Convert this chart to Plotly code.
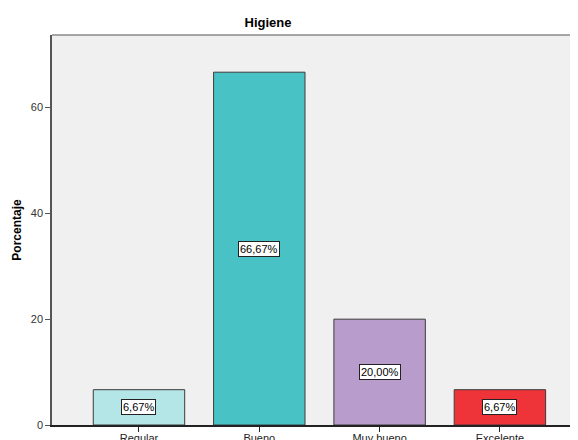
import plotly.graph_objects as go

categories = ["Regular", "Bueno", "Muy bueno", "Excelente"]
values = [6.67, 66.67, 20.00, 6.67]
labels = ["6,67%", "66,67%", "20,00%", "6,67%"]
colors = ["#b4e6e8", "#48c2c5", "#b89ccb", "#ee3339"]

fig = go.Figure()
fig.add_trace(go.Bar(
    x=categories,
    y=values,
    width=0.76,
    marker=dict(color=colors, line=dict(color="#3c3c3c", width=1)),
    showlegend=False,
    hoverinfo="skip",
))

# boxed percentage labels in the middle of each bar
for cat, val, lab in zip(categories, values, labels):
    fig.add_annotation(
        x=cat, y=val / 2, text=lab, showarrow=False,
        font=dict(family="Liberation Sans, Arial", size=11, color="black"),
        bgcolor="white", bordercolor="#222222", borderwidth=1, borderpad=1,
    )

# top border of the plot frame
fig.add_shape(type="line", xref="paper", yref="paper", x0=0, x1=1, y0=1, y1=1,
              line=dict(color="#8a8a8a", width=1.5))

# the page body adds an 8px margin, so the figure is 8px smaller each way
fig.update_layout(
    width=570,
    height=432,
    margin=dict(l=44, r=0, t=27, b=15),
    paper_bgcolor="white",
    plot_bgcolor="#f0f0f0",
    font=dict(family="Liberation Sans, Arial", size=11, color="#222222"),
    title=dict(text="<b>Higiene</b>", x=260 / 570, xanchor="center",
               y=1 - 14 / 432, yanchor="middle",
               font=dict(size=13, color="black")),
    xaxis=dict(
        range=[-0.723, 3.649],
        showgrid=False, zeroline=False,
        showline=True, linecolor="#222222", linewidth=1.5,
        ticks="outside", ticklen=5, tickcolor="#222222",
        ticklabelstandoff=-3,
        automargin=False,
        tickfont=dict(size=11, color="#222222"),
    ),
    yaxis=dict(
        range=[0, 73.7],
        tickvals=[0, 20, 40, 60],
        showgrid=False, zeroline=False,
        showline=True, linecolor="#555555", linewidth=1.5,
        ticks="outside", ticklen=5, tickcolor="#555555",
        automargin=False,
        tickfont=dict(size=11, color="#333333"),
        title=dict(text="<b>Porcentaje</b>", font=dict(size=12, color="black"),
                   standoff=7),
    ),
)

fig.write_html("out.html")
